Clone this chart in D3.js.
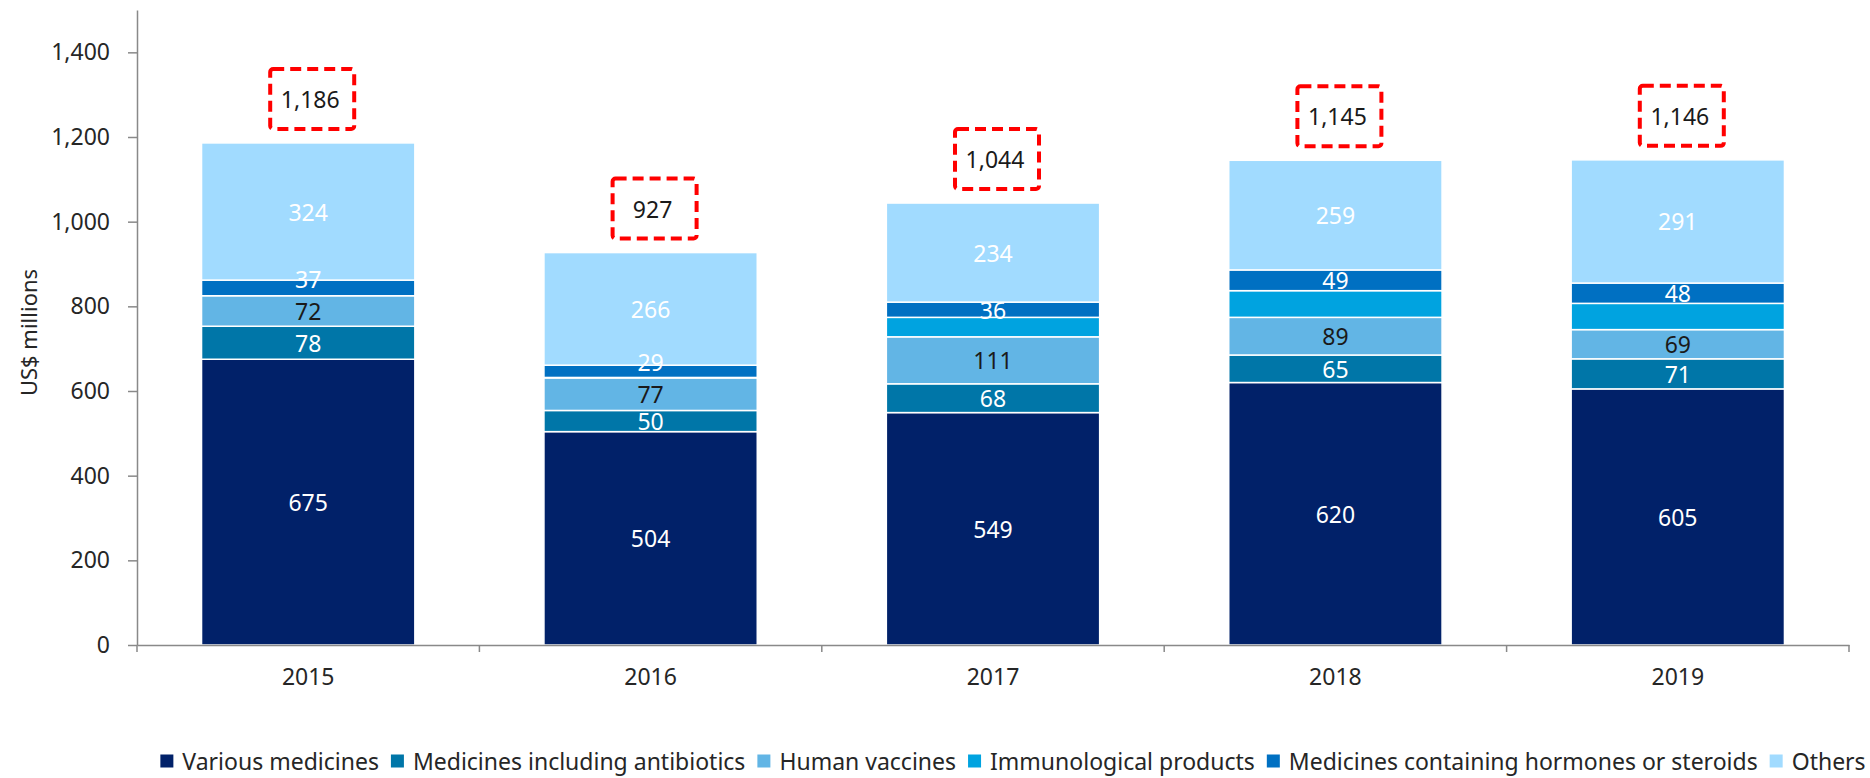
<!DOCTYPE html>
<html>
<head>
<meta charset="utf-8">
<script src="https://cdn.jsdelivr.net/npm/d3@7"></script>
<style>
  html, body { margin: 0; padding: 0; background: #ffffff; }
  svg { display: block; font-family: "Noto Sans", "Open Sans", sans-serif; }
</style>
</head>
<body>
<svg id="chart" width="1870" height="778"></svg>
<script>
// Pharmaceutical imports by product group, US$ millions
const years = ["2015", "2016", "2017", "2018", "2019"];
const variousMedicines = [675, 504, 549, 620, 605];
const antibiotics = [78, 50, 68, 65, 71];
const humanVaccines = [72, 77, 111, 89, 69];
const immunologicalProducts = [0, 1, 46, 63, 62];
const hormonesSteroids = [37, 29, 36, 49, 48];
const others = [324, 266, 234, 259, 291];
const totals = [1186, 927, 1044, 1145, 1146];
const yTicks = [0, 200, 400, 600, 800, 1000, 1200, 1400];

const seriesNames = [
  "Various medicines",
  "Medicines including antibiotics",
  "Human vaccines",
  "Immunological products",
  "Medicines containing hormones or steroids",
  "Others"
];
const seriesValues = [variousMedicines, antibiotics, humanVaccines, immunologicalProducts, hormonesSteroids, others];
const seriesColors = ["#012169", "#0076A8", "#62B5E5", "#00A3E0", "#0070C2", "#A1DBFF"];
const labelColors = ["#ffffff", "#ffffff", "#1a1a1a", null, "#ffffff", "#ffffff"];

const rows = years.map((yr, i) => {
  const row = { year: yr };
  seriesNames.forEach((s, k) => { row[s] = seriesValues[k][i]; });
  return row;
});

const svg = d3.select("#chart");
const plotLeft = 137, plotRight = 1849, plotBottom = 645, plotTop = 10;
const fontSize = 23;

const x = d3.scaleBand().domain(years).range([plotLeft, plotRight]).paddingInner(0.377).paddingOuter(0.1885);
const y = d3.scaleLinear().domain([0, 1500]).range([plotBottom, plotTop]);

const stack = d3.stack().keys(seriesNames);
const layers = stack(rows);

// Stacked segments
const layerG = svg.append("g").selectAll("g").data(layers).join("g")
  .attr("fill", (d, k) => seriesColors[k]);

layerG.selectAll("rect").data(d => d).join("rect")
  .attr("x", d => x(d.data.year))
  .attr("width", x.bandwidth())
  .attr("y", d => y(d[1]))
  .attr("height", d => Math.max(0, y(d[0]) - y(d[1])))
  .attr("stroke", "#ffffff")
  .attr("stroke-width", 1.5);

// Segment value labels: centred in the segment; a label in a thin segment
// is lifted so it keeps clear of the label beneath it in the same bar.
const minLabelGap = 32, thinSegment = 18;
const labels = [];
years.forEach((yr, i) => {
  let prevY = null;
  layers.forEach((layer, k) => {
    const d = layer[i];
    const v = d[1] - d[0];
    if (!labelColors[k] || v <= 0) return;
    let ly = y((d[0] + d[1]) / 2);
    const segH = y(d[0]) - y(d[1]);
    if (prevY !== null && segH < thinSegment && prevY - ly < minLabelGap) ly = prevY - minLabelGap;
    prevY = ly;
    labels.push({ x: x(yr) + x.bandwidth() / 2, y: ly, text: d3.format(",")(v), color: labelColors[k] });
  });
});
svg.append("g").selectAll("text").data(labels).join("text")
  .attr("x", d => d.x)
  .attr("y", d => d.y)
  .attr("text-anchor", "middle")
  .attr("dominant-baseline", "central")
  .attr("font-size", fontSize)
  .attr("fill", d => d.color)
  .text(d => d.text);

// Y axis
const yAxis = svg.append("g")
  .attr("transform", `translate(${plotLeft},0)`)
  .call(d3.axisLeft(y).tickValues(yTicks).tickSize(9).tickSizeOuter(0).tickPadding(18).tickFormat(d3.format(",")));
yAxis.select(".domain").attr("stroke", "#898989").attr("stroke-width", 1.5);
yAxis.selectAll(".tick line").attr("stroke", "#898989").attr("stroke-width", 1.5);
yAxis.selectAll(".tick text").attr("font-size", fontSize).attr("fill", "#262626").attr("font-family", "Noto Sans");

// X axis with category boundary ticks
const xAxis = svg.append("g")
  .attr("transform", `translate(0,${plotBottom})`)
  .call(d3.axisBottom(x).tickSize(0).tickSizeOuter(0).tickPadding(24));
xAxis.select(".domain").attr("stroke", "#898989").attr("stroke-width", 1.5);
xAxis.selectAll(".tick text").attr("font-size", fontSize).attr("fill", "#262626").attr("font-family", "Noto Sans");
const bounds = d3.range(years.length + 1).map(i => x.range()[0] + i * x.step());
xAxis.append("g").selectAll("line").data(bounds).join("line")
  .attr("x1", d => d).attr("x2", d => d)
  .attr("y1", 0).attr("y2", 7)
  .attr("stroke", "#898989").attr("stroke-width", 1.5);

// Y axis title
svg.append("text")
  .attr("transform", `translate(28,${(plotBottom + plotTop) / 2 + 5}) rotate(-90)`)
  .attr("text-anchor", "middle")
  .attr("dominant-baseline", "central")
  .attr("font-size", 22)
  .attr("fill", "#262626")
  .text("US$ millions");

// Total callouts in dashed boxes
const boxW = 84, boxH = 60, boxLift = 44;
const totalG = svg.append("g").selectAll("g").data(years).join("g")
  .attr("transform", (yr, i) => `translate(${x(yr) + x.bandwidth() / 2 + 4},${y(totals[i]) - boxLift})`);
totalG.append("rect")
  .attr("x", -boxW / 2).attr("y", -boxH / 2)
  .attr("width", boxW).attr("height", boxH)
  .attr("rx", 3)
  .attr("fill", "none")
  .attr("stroke", "#FF0000")
  .attr("stroke-width", 4)
  .attr("stroke-dasharray", "11,6");
totalG.append("text")
  .attr("x", -2)
  .attr("text-anchor", "middle")
  .attr("dominant-baseline", "central")
  .attr("font-size", fontSize)
  .attr("fill", "#1a1a1a")
  .text((yr, i) => d3.format(",")(totals[i]));

// Legend
const legendY = 761, sq = 13, sqGap = 9, itemGap = 12;
const legend = svg.append("g");
const items = legend.selectAll("g").data(seriesNames).join("g");
items.append("rect")
  .attr("width", sq).attr("height", sq)
  .attr("y", -sq / 2)
  .attr("fill", (d, k) => seriesColors[k]);
items.append("text")
  .attr("x", sq + sqGap)
  .attr("dominant-baseline", "central")
  .attr("font-size", fontSize)
  .attr("fill", "#262626")
  .text(d => d);
let cursor = 0;
const offsets = [];
items.each(function () {
  offsets.push(cursor);
  cursor += this.getBBox().width + itemGap;
});
const legendWidth = cursor - itemGap;
const legendCenter = 1013;
items.attr("transform", (d, k) => `translate(${legendCenter - legendWidth / 2 + offsets[k]},${legendY})`);
</script>
</body>
</html>
